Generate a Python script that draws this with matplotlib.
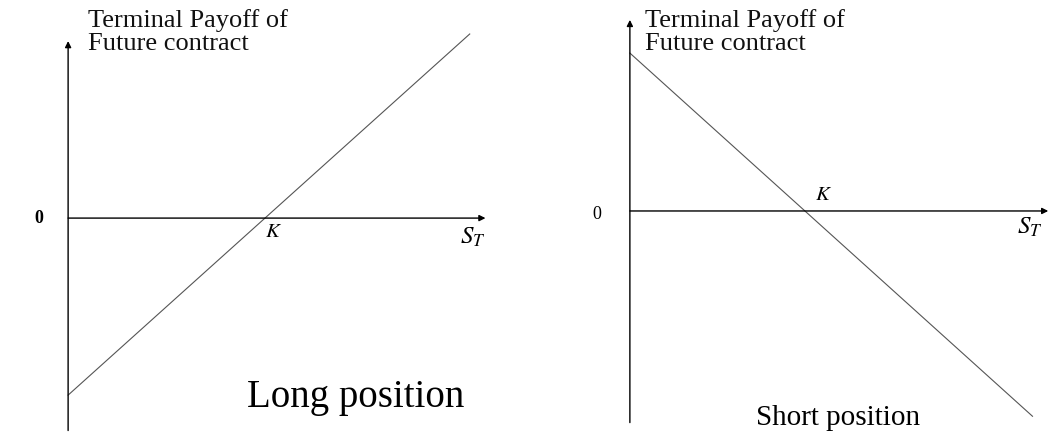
import matplotlib
matplotlib.use('Agg')
import matplotlib.pyplot as plt

# payoff lines (S_T, payoff), strike K = 50
strike = 50
long_s = [0, 102]
long_payoff = [-50, 52]
short_s = [0, 115]
short_payoff = [50, -65]

W, H = 1057, 433
fig = plt.figure(figsize=(W / 100, H / 100), dpi=100)
plt.rcParams['font.family'] = ['Liberation Serif', 'DejaVu Serif']
plt.rcParams['mathtext.fontset'] = 'stix'


def panel(px_left, px_width, xlim, ylim):
    ax = fig.add_axes([px_left / W, 0, px_width / W, 1])
    ax.set_xlim(*xlim)
    ax.set_ylim(*ylim)
    ax.axis('off')
    return ax


def draw_axes(ax, x_end, y_top, y_bottom):
    arrow = dict(arrowstyle='-|>', lw=1.0, color='black', mutation_scale=9,
                 shrinkA=0, shrinkB=0)
    ax.annotate('', xy=(x_end, 0), xytext=(0, 0), arrowprops=arrow)
    ax.annotate('', xy=(0, y_top), xytext=(0, y_bottom), arrowprops=arrow)


# ---- long position ----
ax1 = panel(0, 528, (-17.3, 116.8), (-60.7, 61.6))
draw_axes(ax1, 106, 50, -60)
ax1.plot(long_s, long_payoff, color='#555555', lw=0.8)
ax1.text(5.0, 59, 'Terminal Payoff of\nFuture contract', fontsize=19,
         va='top', ha='left', linespacing=1.05, color='#111111')
ax1.text(-7.5, 0, '0', fontsize=13, va='center', ha='center', fontweight='bold')
ax1.text(strike, -1.3, '$K$', fontsize=15, va='top', ha='left')
ax1.text(102.8, -5.4, '$S_T$', fontsize=18, va='center', ha='center')
ax1.text(45.5, -50.8, 'Long position', fontsize=28, va='center', ha='left')

# ---- short position ----
ax2 = panel(528, 529, (-29.1, 122.0), (-70.3, 66.8))
draw_axes(ax2, 119.5, 60.5, -67)
ax2.plot(short_s, short_payoff, color='#555555', lw=0.8)
ax2.text(4.3, 64, 'Terminal Payoff of\nFuture contract', fontsize=19,
         va='top', ha='left', linespacing=1.05, color='#111111')
ax2.text(-9.5, -1, '0', fontsize=13, va='center', ha='center')
ax2.text(strike + 3, 2, '$K$', fontsize=15, va='bottom', ha='left')
ax2.text(114.3, -5.1, '$S_T$', fontsize=18, va='center', ha='center')
ax2.text(36, -65.6, 'Short position', fontsize=21, va='center', ha='left')

fig.savefig('out.png', dpi=100, facecolor='white')
